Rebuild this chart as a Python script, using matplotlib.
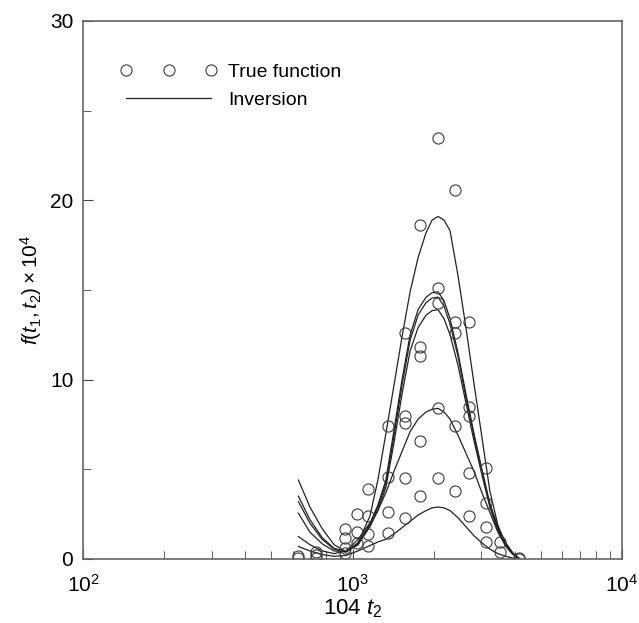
import numpy as np
import matplotlib.pyplot as plt
from matplotlib.ticker import MultipleLocator, LogLocator, NullFormatter

plt.rcParams['font.family'] = ['Liberation Sans', 'DejaVu Sans']
plt.rcParams['mathtext.fontset'] = 'custom'
plt.rcParams['mathtext.rm'] = 'Liberation Sans'
plt.rcParams['mathtext.it'] = 'Liberation Sans:italic'

# inversion curves (on a shared t2 grid)
t2_curve = [630, 695, 771, 854, 946, 1048, 1161, 1242, 1330, 1426,
            1527, 1636, 1751, 1875, 1974, 2077, 2186, 2301, 2463, 2636,
            2822, 3021, 3233, 3461, 3704, 3933, 4180]
inv_a = [4.4, 2.9, 1.7, 0.8, 0.4, 0.9, 2.4, 4.4, 7.0, 9.7,
         12.4, 14.9, 16.8, 18.2, 18.9, 19.1, 18.9, 18.3, 15.8, 12.9,
         9.8, 6.8, 3.8, 1.9, 0.8, 0.3, 0.0]
inv_b = [3.5, 2.2, 1.2, 0.6, 0.4, 0.9, 2.0, 3.0, 4.4, 7.2,
         10.0, 12.5, 13.9, 14.6, 14.85, 14.9, 14.4, 13.4, 11.5, 9.2,
         7.0, 5.0, 3.1, 1.8, 0.9, 0.35, 0.0]
inv_c = [3.2, 2.0, 1.1, 0.55, 0.4, 0.8, 1.9, 2.9, 4.2, 6.9,
         9.7, 12.2, 13.6, 14.3, 14.55, 14.6, 14.1, 13.1, 11.3, 9.0,
         6.9, 4.9, 3.0, 1.7, 0.85, 0.3, 0.0]
inv_d = [2.55, 1.5, 0.85, 0.45, 0.4, 0.8, 1.8, 2.7, 4.0, 6.5,
         9.2, 11.6, 12.9, 13.6, 13.85, 13.9, 13.4, 12.5, 10.8, 8.7,
         6.6, 4.7, 2.9, 1.6, 0.8, 0.3, 0.0]
inv_e = [1.25, 0.8, 0.45, 0.3, 0.45, 1.1, 2.0, 2.7, 3.7, 4.9,
         6.0, 7.1, 7.8, 8.2, 8.35, 8.4, 8.2, 7.8, 6.9, 5.9,
         4.9, 3.7, 2.6, 1.5, 0.7, 0.25, 0.0]
inv_f = [0.7, 0.45, 0.25, 0.15, 0.2, 0.45, 0.75, 0.95, 1.1, 1.4,
         1.75, 2.1, 2.45, 2.7, 2.85, 2.9, 2.85, 2.7, 2.3, 1.8,
         1.3, 0.9, 0.55, 0.3, 0.15, 0.05, 0.0]
curves = [inv_a, inv_b, inv_c, inv_d, inv_e, inv_f]

# true function samples, grouped by t2 column
t2_true = [630, 730, 940, 1040, 1140, 1350, 1570, 1780,
           2080, 2400, 2710, 3130, 3530, 4150]
f_true = [
    [0.15, 0.05],
    [0.4, 0.2, 0.05],
    [1.7, 1.15, 0.6, 0.35],
    [2.5, 1.5, 0.9],
    [3.9, 2.4, 1.4, 0.75],
    [7.4, 4.6, 2.6, 1.45],
    [12.6, 8.0, 7.6, 4.5, 2.3],
    [18.6, 11.8, 11.3, 6.6, 3.5],
    [23.5, 15.1, 14.3, 8.4, 4.5],
    [20.6, 13.2, 12.6, 7.4, 3.8],
    [13.2, 8.5, 8.0, 4.8, 2.4],
    [5.1, 3.1, 1.8, 0.95],
    [0.95, 0.4],
    [0.05, 0.0],
]

x_true = []
y_true = []
for t, vals in zip(t2_true, f_true):
    for v in vals:
        x_true.append(t)
        y_true.append(v)

fig = plt.figure(figsize=(6.39, 6.23), dpi=100)
ax = fig.add_axes([83 / 639, 64 / 623, 539 / 639, 538 / 623])

for i, c in enumerate(curves):
    ax.plot(t2_curve, c, color='#222222', lw=0.9,
            label='Inversion' if i == 0 else None)

ax.plot(x_true, y_true, linestyle='none', marker='o', markersize=8,
        markerfacecolor='none', markeredgecolor='#3a3a3a',
        markeredgewidth=0.8, label='True function')

ax.set_xscale('log')
ax.set_xlim(1e2, 1e4)
ax.set_ylim(0, 30)
ax.yaxis.set_major_locator(MultipleLocator(10))
ax.yaxis.set_minor_locator(MultipleLocator(5))
ax.xaxis.set_major_locator(LogLocator(base=10))
ax.xaxis.set_minor_locator(LogLocator(base=10, subs=np.arange(2, 10)))
ax.xaxis.set_minor_formatter(NullFormatter())

ax.tick_params(which='both', direction='in', top=False, right=False,
               labelsize=15, color='#444444')
ax.tick_params(which='major', length=7)
ax.tick_params(which='minor', length=6)
ax.tick_params(axis='x', pad=11)
ax.tick_params(axis='y', pad=7)
for s in ax.spines.values():
    s.set_color('#666666')
    s.set_linewidth(1.2)

ax.set_xlabel('104 $t_2$', fontsize=16, labelpad=1)
ax.set_ylabel('$f(t_1,t_2)\\times10^4$', fontsize=15, labelpad=4)

h, l = ax.get_legend_handles_labels()
ax.legend([h[1], h[0]], [l[1], l[0]], loc='upper left',
          bbox_to_anchor=(0.0686, 0.922), frameon=False, numpoints=3,
          fontsize=14, borderpad=0, borderaxespad=0, handlelength=5.0,
          handletextpad=0.57, labelspacing=0.55)

fig.savefig('out.png', dpi=100)
